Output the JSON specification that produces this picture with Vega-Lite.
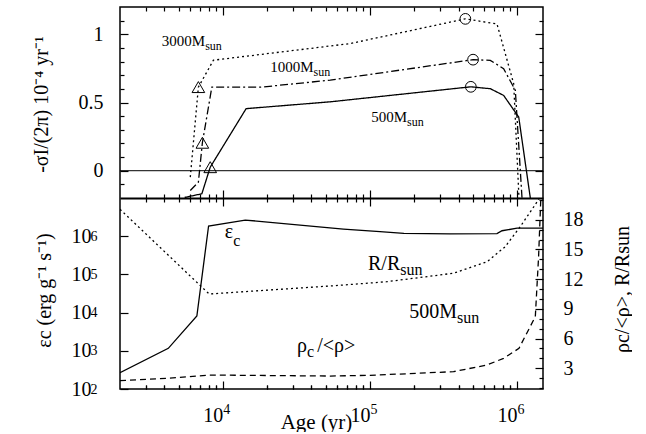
{
  "$schema": "https://vega.github.io/schema/vega-lite/v6.json",
  "background": "white",
  "padding": {"left": 31, "top": 6, "right": 0, "bottom": 0},
  "width": 423,
  "height": 382,
  "config": {
    "view": {"stroke": "black", "strokeWidth": 1.5},
    "axis": {"domain": false, "grid": false, "tickColor": "black", "tickWidth": 1.2, "labelFont": "Liberation Serif", "titleFont": "Liberation Serif", "labelFontSize": 20, "titleFontSize": 20, "labelColor": "black", "titleColor": "black", "titleFontWeight": "normal", "labelOverlap": false, "labelBound": false, "labelFlush": false},
    "text": {"font": "Liberation Serif", "color": "black"},
    "line": {"color": "black", "strokeWidth": 1.3}
  },
  "resolve": {"scale": {"y": "independent", "strokeDash": "independent"}, "axis": {"x": "independent", "y": "independent"}},
  "layer": [
    {
      "data": {"values": [
        {"s": "3000", "age": 6010, "v": -0.047},
        {"s": "3000", "age": 6820, "v": 0.613},
        {"s": "3000", "age": 8630, "v": 0.81},
        {"s": "3000", "age": 73400, "v": 0.932},
        {"s": "3000", "age": 445000, "v": 1.113},
        {"s": "3000", "age": 730000, "v": 1.076},
        {"s": "3000", "age": 948000, "v": 0.638},
        {"s": "3000", "age": 1030000, "v": -0.2},
        {"s": "1000", "age": 6010, "v": -0.145},
        {"s": "1000", "age": 6820, "v": -0.084},
        {"s": "1000", "age": 7260, "v": 0.205},
        {"s": "1000", "age": 8420, "v": 0.613},
        {"s": "1000", "age": 18000, "v": 0.612},
        {"s": "1000", "age": 53700, "v": 0.664},
        {"s": "1000", "age": 502000, "v": 0.814},
        {"s": "1000", "age": 658000, "v": 0.809},
        {"s": "1000", "age": 810000, "v": 0.748},
        {"s": "1000", "age": 973000, "v": 0.589},
        {"s": "1000", "age": 1080000, "v": -0.2},
        {"s": "500", "age": 5500, "v": -0.196},
        {"s": "500", "age": 7200, "v": -0.169},
        {"s": "500", "age": 8210, "v": 0.026},
        {"s": "500", "age": 14400, "v": 0.455},
        {"s": "500", "age": 53700, "v": 0.505},
        {"s": "500", "age": 485000, "v": 0.615},
        {"s": "500", "age": 658000, "v": 0.601},
        {"s": "500", "age": 810000, "v": 0.552},
        {"s": "500", "age": 1026000, "v": 0.393},
        {"s": "500", "age": 1230000, "v": -0.2}
      ]},
      "mark": {"type": "line", "clip": true},
      "encoding": {
        "x": {"field": "age", "type": "quantitative", "scale": {"type": "log", "domain": [2000, 1500000], "nice": false}, "axis": {"orient": "bottom", "values": [10000, 100000, 1000000], "labelExpr": "'10'", "labelAlign": "right", "labelDx": 7, "labelBaseline": "alphabetic", "tickSize": -8, "labelPadding": 40, "title": "Age (yr)", "titleX": 196, "titleY": 39, "titleBaseline": "alphabetic", "titleAlign": "center", "titleFontSize": 21}},
        "y": {"field": "v", "type": "quantitative", "scale": {"domain": [-0.2, 1.2], "range": [191, 0], "nice": false, "zero": false}, "axis": {"orient": "left", "values": [0, 0.5, 1], "format": "~g", "tickSize": -8, "labelPadding": 25, "title": "-σI/(2π) 10⁻⁴ yr⁻¹", "titleX": -73, "titleY": 97, "titleAngle": 270, "titleBaseline": "alphabetic", "titleAlign": "center"}},
        "strokeDash": {"field": "s", "type": "nominal", "scale": {"domain": ["3000", "1000", "500"], "range": [[2, 3], [8, 3, 2, 3], [1, 0]]}, "legend": null}
      }
    },
    {
      "data": {"values": [{"age": 2000, "v": 0}, {"age": 1500000, "v": 0}]},
      "mark": {"type": "line", "strokeWidth": 1},
      "encoding": {
        "x": {"field": "age", "type": "quantitative", "axis": {"orient": "bottom", "values": [3000, 4000, 5000, 6000, 7000, 8000, 9000, 20000, 30000, 40000, 50000, 60000, 70000, 80000, 90000, 200000, 300000, 400000, 500000, 600000, 700000, 800000, 900000], "labels": false, "tickSize": -4, "title": null}},
        "y": {"field": "v", "type": "quantitative", "scale": {"domain": [-0.2, 1.2], "range": [191, 0], "nice": false, "zero": false}, "axis": {"orient": "left", "values": [-0.1, 0.1, 0.2, 0.3, 0.4, 0.6, 0.7, 0.8, 0.9, 1.1], "labels": false, "tickSize": -4, "title": null}}
      }
    },
    {
      "data": {"values": [
        {"kind": "onset", "age": 6820, "v": 0.613},
        {"kind": "onset", "age": 7260, "v": 0.205},
        {"kind": "onset", "age": 8210, "v": 0.026},
        {"kind": "peak", "age": 445000, "v": 1.113},
        {"kind": "peak", "age": 502000, "v": 0.814},
        {"kind": "peak", "age": 485000, "v": 0.615}
      ]},
      "mark": {"type": "point", "filled": false, "stroke": "black", "strokeWidth": 1, "opacity": 1},
      "encoding": {
        "x": {"field": "age", "type": "quantitative", "axis": {"orient": "top", "values": [10000, 100000, 1000000], "labels": false, "tickSize": -8, "title": null}},
        "y": {"field": "v", "type": "quantitative", "scale": {"domain": [-0.2, 1.2], "range": [191, 0], "nice": false, "zero": false}, "axis": {"orient": "right", "values": [0, 0.5, 1], "labels": false, "tickSize": -8, "title": null}},
        "shape": {"field": "kind", "type": "nominal", "scale": {"domain": ["onset", "peak"], "range": ["triangle-up", "circle"]}, "legend": null},
        "size": {"field": "kind", "type": "nominal", "scale": {"domain": ["onset", "peak"], "range": [160, 115]}, "legend": null}
      }
    },
    {
      "data": {"name": "toplabels", "values": [
        {"age": 7580, "v": 0.914, "main": "3000M", "sub": "sun"},
        {"age": 41330, "v": 0.7234, "main": "1000M", "sub": "sun"},
        {"age": 178600, "v": 0.3566, "main": "500M", "sub": "sun"}
      ]},
      "mark": {"type": "text", "align": "right", "baseline": "alphabetic", "fontSize": 15},
      "encoding": {
        "x": {"field": "age", "type": "quantitative", "axis": {"orient": "top", "values": [3000, 4000, 5000, 6000, 7000, 8000, 9000, 20000, 30000, 40000, 50000, 60000, 70000, 80000, 90000, 200000, 300000, 400000, 500000, 600000, 700000, 800000, 900000], "labels": false, "tickSize": -4, "title": null}},
        "y": {"field": "v", "type": "quantitative", "scale": {"domain": [-0.2, 1.2], "range": [191, 0], "nice": false, "zero": false}, "axis": {"orient": "right", "values": [-0.1, 0.1, 0.2, 0.3, 0.4, 0.6, 0.7, 0.8, 0.9, 1.1], "labels": false, "tickSize": -4, "title": null}},
        "text": {"field": "main"}
      }
    },
    {
      "data": {"name": "toplabels"},
      "mark": {"type": "text", "align": "left", "baseline": "alphabetic", "fontSize": 12, "dy": 4},
      "encoding": {
        "x": {"field": "age", "type": "quantitative", "axis": {"orient": "bottom", "offset": -191, "domain": true, "domainColor": "black", "domainWidth": 2, "values": [10000, 100000, 1000000], "labels": false, "tickSize": -8, "title": null}},
        "y": {"field": "v", "type": "quantitative", "scale": {"domain": [-0.2, 1.2], "range": [191, 0], "nice": false, "zero": false}, "axis": null},
        "text": {"field": "sub"}
      }
    },
    {
      "data": {"values": [
        {"age": 2000, "e": 267},
        {"age": 4260, "e": 1160},
        {"age": 6660, "e": 8150},
        {"age": 8000, "e": 1850000},
        {"age": 14200, "e": 2650000},
        {"age": 66000, "e": 1540000},
        {"age": 117000, "e": 1310000},
        {"age": 170000, "e": 1190000},
        {"age": 350000, "e": 1150000},
        {"age": 730000, "e": 1170000},
        {"age": 790000, "e": 1390000},
        {"age": 1000000, "e": 1620000},
        {"age": 1500000, "e": 1620000}
      ]},
      "mark": {"type": "line", "clip": true},
      "encoding": {
        "x": {"field": "age", "type": "quantitative", "axis": {"orient": "bottom", "offset": -191, "values": [3000, 4000, 5000, 6000, 7000, 8000, 9000, 20000, 30000, 40000, 50000, 60000, 70000, 80000, 90000, 200000, 300000, 400000, 500000, 600000, 700000, 800000, 900000], "labels": false, "tickSize": -4, "title": null}},
        "y": {"field": "e", "type": "quantitative", "scale": {"type": "log", "domain": [100, 10000000], "range": [382, 191], "nice": false}, "axis": {"orient": "left", "values": [100, 1000, 10000, 100000, 1000000], "labelExpr": "'10'", "labelBaseline": "middle", "tickSize": -8, "labelPadding": 37, "title": "εc (erg g⁻¹ s⁻¹)", "titleX": -70, "titleY": 283, "titleAngle": 270, "titleBaseline": "alphabetic", "titleAlign": "center"}}
      }
    },
    {
      "data": {"name": "elabel", "values": [{"age": 11750, "e": 897000, "main": "ε", "sub": "c"}]},
      "mark": {"type": "text", "align": "right", "baseline": "alphabetic", "fontSize": 20},
      "encoding": {
        "x": {"field": "age", "type": "quantitative", "axis": {"orient": "bottom", "values": [10000, 100000, 1000000], "labelExpr": "'' + round(log(datum.value) / LN10)", "labelAlign": "left", "labelDx": 7, "labelBaseline": "alphabetic", "ticks": false, "labelPadding": 24, "labelFontSize": 14, "title": null}},
        "y": {"field": "e", "type": "quantitative", "scale": {"type": "log", "domain": [100, 10000000], "range": [382, 191], "nice": false}, "axis": {"orient": "left", "values": [100, 1000, 10000, 100000, 1000000], "labelExpr": "'' + round(log(datum.value) / LN10)", "labelAlign": "left", "labelBaseline": "middle", "labelDy": -7, "ticks": false, "labelPadding": 30, "labelFontSize": 14, "title": null}},
        "text": {"field": "main"}
      }
    },
    {
      "data": {"name": "elabel"},
      "mark": {"type": "text", "align": "left", "baseline": "alphabetic", "fontSize": 16, "dy": 8},
      "encoding": {
        "x": {"field": "age", "type": "quantitative", "axis": {"orient": "bottom", "values": [3000, 4000, 5000, 6000, 7000, 8000, 9000, 20000, 30000, 40000, 50000, 60000, 70000, 80000, 90000, 200000, 300000, 400000, 500000, 600000, 700000, 800000, 900000], "labels": false, "tickSize": -4, "title": null}},
        "y": {"field": "e", "type": "quantitative", "scale": {"type": "log", "domain": [100, 10000000], "range": [382, 191], "nice": false}, "axis": null},
        "text": {"field": "sub"}
      }
    },
    {
      "data": {"values": [
        {"s": "R", "age": 2000, "r": 19.06},
        {"s": "R", "age": 8070, "r": 10.5},
        {"s": "R", "age": 53700, "r": 11.31},
        {"s": "R", "age": 130000, "r": 11.74},
        {"s": "R", "age": 370000, "r": 12.6},
        {"s": "R", "age": 625000, "r": 13.76},
        {"s": "R", "age": 830000, "r": 15.28},
        {"s": "R", "age": 1050000, "r": 17.3},
        {"s": "R", "age": 1300000, "r": 19.32},
        {"s": "R", "age": 1420000, "r": 20.2},
        {"s": "rho", "age": 2000, "r": 1.74},
        {"s": "rho", "age": 4260, "r": 1.98},
        {"s": "rho", "age": 8070, "r": 2.31},
        {"s": "rho", "age": 53700, "r": 2.21},
        {"s": "rho", "age": 100000, "r": 2.28},
        {"s": "rho", "age": 370000, "r": 2.65},
        {"s": "rho", "age": 625000, "r": 3.33},
        {"s": "rho", "age": 810000, "r": 4.0},
        {"s": "rho", "age": 1030000, "r": 5.01},
        {"s": "rho", "age": 1330000, "r": 8.21},
        {"s": "rho", "age": 1400000, "r": 14.27},
        {"s": "rho", "age": 1450000, "r": 20.2}
      ]},
      "mark": {"type": "line", "clip": true},
      "encoding": {
        "x": {"field": "age", "type": "quantitative", "axis": {"orient": "top", "offset": -191, "values": [10000, 100000, 1000000], "labels": false, "tickSize": -8, "title": null}},
        "y": {"field": "r", "type": "quantitative", "scale": {"domain": [0.9, 20.2], "range": [382, 191], "nice": false, "zero": false}, "axis": {"orient": "right", "values": [3, 6, 9, 12, 15, 18], "format": "d", "labelAlign": "left", "labelBaseline": "middle", "tickSize": -8, "labelPadding": 28, "title": "ρc/<ρ>, R/Rsun", "titleX": 85, "titleY": 282, "titleAngle": 270, "titleBaseline": "alphabetic", "titleAlign": "center"}},
        "strokeDash": {"field": "s", "type": "nominal", "scale": {"domain": ["R", "rho"], "range": [[2, 3], [6, 4]]}, "legend": null}
      }
    },
    {
      "data": {"name": "rlabels", "values": [
        {"age": 160700, "r": 12.925, "main": "R/R", "sub": "sun"},
        {"age": 390800, "r": 8.044, "main": "500M", "sub": "sun"},
        {"age": 37270, "r": 4.669, "main": "ρ", "sub": "c"},
        {"age": 79430, "r": 4.669, "main": "/<ρ>", "sub": ""}
      ]},
      "mark": {"type": "text", "align": "right", "baseline": "alphabetic", "fontSize": 20},
      "encoding": {
        "x": {"field": "age", "type": "quantitative", "axis": {"orient": "top", "offset": -191, "values": [3000, 4000, 5000, 6000, 7000, 8000, 9000, 20000, 30000, 40000, 50000, 60000, 70000, 80000, 90000, 200000, 300000, 400000, 500000, 600000, 700000, 800000, 900000], "labels": false, "tickSize": -4, "title": null}},
        "y": {"field": "r", "type": "quantitative", "scale": {"domain": [0.9, 20.2], "range": [382, 191], "nice": false, "zero": false}, "axis": {"orient": "right", "values": [1, 2, 4, 5, 7, 8, 10, 11, 13, 14, 16, 17, 19, 20], "labels": false, "tickSize": -4, "title": null}},
        "text": {"field": "main"}
      }
    },
    {
      "data": {"name": "rlabels"},
      "mark": {"type": "text", "align": "left", "baseline": "alphabetic", "fontSize": 16, "dy": 5},
      "encoding": {
        "x": {"field": "age", "type": "quantitative", "axis": null},
        "y": {"field": "r", "type": "quantitative", "scale": {"domain": [0.9, 20.2], "range": [382, 191], "nice": false, "zero": false}, "axis": null},
        "text": {"field": "sub"}
      }
    }
  ]
}
